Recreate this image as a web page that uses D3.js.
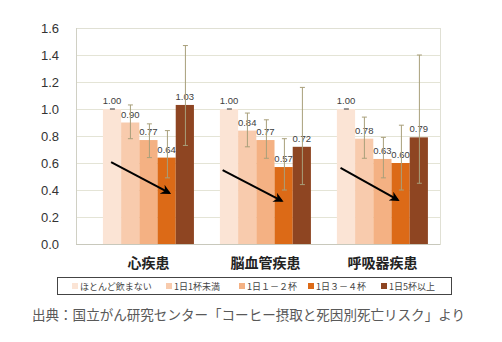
<!DOCTYPE html>
<html><head><meta charset="utf-8">
<script src="https://cdn.jsdelivr.net/npm/d3@7"></script>
<style>
html,body{margin:0;padding:0;background:#fff;}
svg{display:block;}
</style></head>
<body>
<svg id="chart" width="502" height="342"></svg>
<script>
const categories = ["心疾患", "脳血管疾患", "呼吸器疾患"];
const seriesNames = ["ほとんど飲まない", "1日1杯未満", "1日１－２杯", "1日３－４杯", "1日5杯以上"];
const seriesColors = ["#FBE4D5", "#F8CBAD", "#F4B183", "#DC6A17", "#8E4522"];
// values per category (rows) per series (cols)
const values = [
  [1.00, 0.90, 0.77, 0.64, 1.03],
  [1.00, 0.84, 0.77, 0.57, 0.72],
  [1.00, 0.78, 0.63, 0.60, 0.79]
];
const lowerCI = [
  [1.00, 0.78, 0.64, 0.49, 0.73],
  [1.00, 0.72, 0.635, 0.40, 0.44],
  [1.00, 0.635, 0.49, 0.40, 0.45]
];
const upperCI = [
  [1.00, 1.03, 0.89, 0.84, 1.47],
  [1.00, 0.97, 0.92, 0.78, 1.16],
  [1.00, 0.94, 0.79, 0.88, 1.40]
];
const yTicks = [0, 0.2, 0.4, 0.6, 0.8, 1.0, 1.2, 1.4, 1.6];
// arrow annotations: [x fraction within group, value] start -> end
const arrowStart = [[0.09, 0.607], [0.03, 0.548], [0.04, 0.563]];
const arrowEnd = [[0.73, 0.378], [0.68, 0.319], [0.67, 0.326]];
const sourceText = "出典：国立がん研究センター「コーヒー摂取と死因別死亡リスク」より";

const svg = d3.select("#chart");
const L = 76, R = 440, T = 28, B = 244;

const y = d3.scaleLinear().domain([0, 1.6]).range([B, T]);
const x0 = d3.scaleBand().domain(categories).range([L, R])
  .paddingInner(0.222).paddingOuter(0.1667).align(0.69);
const x1 = d3.scaleBand().domain(seriesNames).range([0, x0.bandwidth()]);

// gridlines
svg.append("g").selectAll("line").data(yTicks).join("line")
  .attr("x1", L).attr("x2", R)
  .attr("y1", d => Math.round(y(d)) + 0.5).attr("y2", d => Math.round(y(d)) + 0.5)
  .attr("stroke", "#E4E4D6").attr("stroke-width", 1);

// plot border
svg.append("rect").attr("x", L + 0.5).attr("y", Math.round(y(1.6)) + 0.5)
  .attr("width", R - L).attr("height", Math.round(y(0)) - Math.round(y(1.6)))
  .attr("fill", "none").attr("stroke", "#E0E0D4");
svg.append("line").attr("x1", L + 0.5).attr("x2", L + 0.5)
  .attr("y1", y(1.6)).attr("y2", y(0) + 0.5).attr("stroke", "#D0D0C4");
svg.append("line").attr("x1", L).attr("x2", R)
  .attr("y1", Math.round(y(0)) + 0.5).attr("y2", Math.round(y(0)) + 0.5).attr("stroke", "#C8C8BC");

// y axis labels
const yAxis = d3.axisLeft(y).tickValues(yTicks).tickFormat(d3.format(".1f")).tickSize(0).tickPadding(17);
const ga = svg.append("g").attr("transform", `translate(${L},0)`).call(yAxis);
ga.select(".domain").remove();
ga.selectAll("text").attr("font-family", "'Liberation Sans', Arial, sans-serif")
  .attr("font-size", 13).attr("fill", "#333");

// bars
const groups = svg.append("g").selectAll("g").data(categories).join("g")
  .attr("transform", d => `translate(${x0(d)},0)`);

groups.each(function(cat, ci) {
  const g = d3.select(this);
  g.selectAll("rect").data(seriesNames).join("rect")
    .attr("x", s => x1(s)).attr("width", x1.bandwidth())
    .attr("y", (s, si) => y(values[ci][si]))
    .attr("height", (s, si) => y(0) - y(values[ci][si]))
    .attr("fill", (s, si) => seriesColors[si]);
  // labels
  g.selectAll("text.lbl").data(seriesNames).join("text").attr("class", "lbl")
    .attr("x", s => x1(s) + x1.bandwidth() / 2)
    .attr("y", (s, si) => y(values[ci][si]) - 5)
    .attr("text-anchor", "middle")
    .attr("font-family", "'Liberation Sans', Arial, sans-serif")
    .attr("font-size", 9.5).attr("fill", "#404040")
    .text((s, si) => values[ci][si].toFixed(2));
  // error bars
  const eb = g.append("g").attr("stroke", "#A89F7A").attr("stroke-width", 1);
  seriesNames.forEach((s, si) => {
    const cx = Math.round(x1(s) + x1.bandwidth() / 2) + 0.5;
    const lo = y(lowerCI[ci][si]), hi = y(upperCI[ci][si]);
    if (si === 0) {
      eb.append("line").attr("x1", cx - 2.5).attr("x2", cx + 2.5).attr("y1", hi).attr("y2", hi)
        .attr("stroke", "#555").attr("stroke-width", 1.2);
      return;
    }
    eb.append("line").attr("x1", cx).attr("x2", cx).attr("y1", lo).attr("y2", hi);
    eb.append("line").attr("x1", cx - 2.5).attr("x2", cx + 2.5).attr("y1", lo).attr("y2", lo);
    eb.append("line").attr("x1", cx - 2.5).attr("x2", cx + 2.5).attr("y1", hi).attr("y2", hi);
  });
});

// arrows
const defs = svg.append("defs");
defs.append("marker").attr("id", "ah").attr("viewBox", "0 0 10 10")
  .attr("refX", 8).attr("refY", 5).attr("markerWidth", 5).attr("markerHeight", 5)
  .attr("orient", "auto")
  .append("path").attr("d", "M0,0 L10,5 L0,10 L3,5 Z").attr("fill", "#000");
categories.forEach((cat, ci) => {
  const bw = x0.bandwidth();
  svg.append("line")
    .attr("x1", x0(cat) + arrowStart[ci][0] * bw).attr("y1", y(arrowStart[ci][1]))
    .attr("x2", x0(cat) + arrowEnd[ci][0] * bw).attr("y2", y(arrowEnd[ci][1]))
    .attr("stroke", "#000").attr("stroke-width", 2)
    .attr("marker-end", "url(#ah)");
});

// category labels
svg.append("g").selectAll("text").data(categories).join("text")
  .attr("x", d => x0(d) + x0.bandwidth() / 2).attr("y", 268)
  .attr("text-anchor", "middle")
  .attr("font-family", "'Noto Sans CJK JP', sans-serif").attr("font-weight", "bold")
  .attr("font-size", 14).attr("fill", "#222")
  .text(d => d);

// legend
svg.append("rect").attr("x", 57.5).attr("y", 277.5).attr("width", 394).attr("height", 17)
  .attr("fill", "#fff").attr("stroke", "#444").attr("stroke-width", 1);
const legX = [72, 166, 239, 308, 381];
const lg = svg.append("g").selectAll("g").data(seriesNames).join("g")
  .attr("transform", (d, i) => `translate(${legX[i]},286)`);
lg.append("rect").attr("x", 0).attr("y", -3).attr("width", 6).attr("height", 6)
  .attr("fill", (d, i) => seriesColors[i]);
lg.append("text").attr("x", 8).attr("y", 3.5)
  .attr("font-family", "'Noto Sans CJK JP', sans-serif").attr("font-size", 9).attr("fill", "#444")
  .text(d => d);

// source
svg.append("text").attr("x", 32).attr("y", 320)
  .attr("font-family", "'Noto Sans CJK JP', sans-serif").attr("font-size", 13.5).attr("fill", "#595959")
  .attr("textLength", 433).attr("lengthAdjust", "spacingAndGlyphs")
  .text(sourceText);
</script>
</body></html>
